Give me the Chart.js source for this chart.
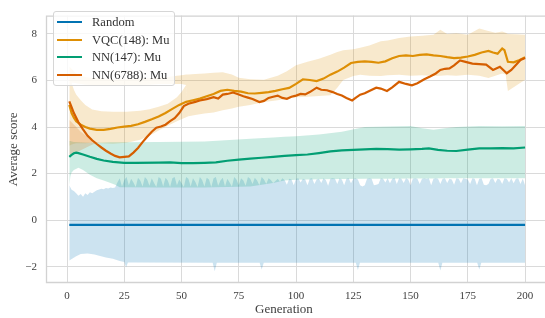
<!DOCTYPE html>
<html>
<head>
<meta charset="utf-8">
<script src="https://cdn.jsdelivr.net/npm/chart.js@4.4.0/dist/chart.umd.min.js"></script>
<style>
  html, body { margin: 0; padding: 0; background: #fff; }
  #wrap { position: relative; width: 545px; height: 318px; }
  #legend {
    position: absolute; left: 53px; top: 11px; width: 120px; height: 73px;
    border: 1px solid #d6d6d6; border-radius: 3px; background: rgba(255,255,255,0.8);
    font-family: "Liberation Serif", "Times New Roman", serif; font-size: 12.5px; color: #333;
  }
  .row { position: absolute; left: 0; height: 18px; line-height: 18px; white-space: nowrap; }
  .swatch { position: absolute; left: 3px; top: 8px; width: 25px; height: 2px; }
  .txt { position: absolute; left: 38px; top: 0; }
  #xtitle {
    position: absolute; left: 284px; top: 309px; transform: translate(-50%, -50%);
    font-family: "Liberation Serif", "Times New Roman", serif; font-size: 13px; color: #404040;
  }
</style>
</head>
<body>
<div id="wrap">
  <canvas id="chart" width="545" height="318"></canvas>
  <div id="legend"></div>
  <div id="xtitle">Generation</div>
</div>
<script>
const seriesLabels = ["Random", "VQC(148): Mu", "NN(147): Mu", "NN(6788): Mu"];
const seriesColors = ["#0173b2", "#de8f05", "#029e73", "#d55e00"];

const xTicks = [0, 25, 50, 75, 100, 125, 150, 175, 200];
const yTicks = [-2, 0, 2, 4, 6, 8];

// every generation, used for the spiky top edge of the random band
const generations = Array.from({ length: 200 }, (_, i) => i + 1);

// Random
const randomGens = [1, 200];
const randomMean = [-0.2, -0.2];
const randomTop = [
  1.5, 1.3, 1.25, 1.15, 1.05, 1.12, 1.0, 1.15, 1.08, 1.2,
  1.15, 1.22, 1.28, 1.32, 1.35, 1.33, 1.38, 1.36, 1.4, 1.38,
  1.4, 1.62, 1.8, 1.45, 1.72, 1.85, 1.5, 1.78, 1.62, 1.42,
  1.82, 1.7, 1.45, 1.85, 1.75, 1.48, 1.8, 1.6, 1.42, 1.85,
  1.78, 1.45, 1.82, 1.7, 1.42, 1.8, 1.85, 1.5, 1.75, 1.6,
  1.42, 1.85, 1.78, 1.45, 1.8, 1.65, 1.42, 1.85, 1.72, 1.45,
  1.82, 1.75, 1.42, 1.8, 1.85, 1.48, 1.7, 1.82, 1.45, 1.78,
  1.62, 1.45, 1.85, 1.75, 1.5, 1.8, 1.7, 1.48, 1.85, 1.78,
  1.55, 1.82, 1.7, 1.5, 1.85, 1.75, 1.55, 1.8, 1.72, 1.6,
  1.68, 1.78, 1.65, 1.8, 1.72, 1.52, 1.78, 1.75, 1.5, 1.78,
  1.8, 1.62, 1.78, 1.75, 1.5, 1.78, 1.8, 1.55, 1.75, 1.78,
  1.6, 1.8, 1.72, 1.48, 1.78, 1.8, 1.78, 1.55, 1.8, 1.75,
  1.5, 1.78, 1.8, 1.58, 1.78, 1.8, 1.75, 1.5, 1.45, 1.5,
  1.78, 1.8, 1.78, 1.5, 1.52, 1.55, 1.8, 1.78, 1.62, 1.8,
  1.58, 1.78, 1.82, 1.55, 1.8, 1.78, 1.6, 1.8, 1.75, 1.5,
  1.78, 1.8, 1.78, 1.55, 1.78, 1.8, 1.78, 1.8, 1.5, 1.78,
  1.8, 1.78, 1.55, 1.78, 1.8, 1.6, 1.78, 1.75, 1.52, 1.8,
  1.78, 1.58, 1.8, 1.78, 1.75, 1.55, 1.8, 1.78, 1.5, 1.78,
  1.8, 1.52, 1.5, 1.55, 1.78, 1.8, 1.6, 1.78, 1.75, 1.55,
  1.8, 1.78, 1.62, 1.8, 1.58, 1.78, 1.8, 1.55, 1.78, 1.5
];
const randomBottomGens = [1, 4, 6, 9, 12, 14, 17, 20, 23, 25, 25.8, 26.6, 30, 63.6, 64.5, 65.4, 84.1, 85, 85.9, 126.1, 127, 127.9, 162.1, 163, 163.9, 179.1, 180, 180.9, 200];
const randomBottom = [-1.73, -1.55, -1.45, -1.43, -1.48, -1.53, -1.6, -1.66, -1.75, -1.8, -2.02, -1.82, -1.82, -1.83, -2.2, -1.83, -1.83, -2.12, -1.83, -1.83, -2.14, -1.83, -1.83, -2.16, -1.83, -1.83, -2.12, -1.83, -1.83];

// VQC(148)
const vqcGens = [1, 2, 3, 4, 6, 8, 10, 13, 16, 19, 22, 25, 28, 31, 34, 37, 40, 43, 46, 49, 52, 55, 58, 61, 64, 67, 70, 73, 76, 79, 82, 85, 88, 91, 94, 97, 100, 103, 106, 109, 112, 115, 118, 121, 124, 127, 130, 133, 136, 139, 142, 145, 148, 151, 154, 157, 160, 163, 166, 169, 172, 175, 178, 181, 184, 186, 188, 190, 191, 192.5, 195, 197, 200];
const vqcMean = [4.95, 4.6, 4.4, 4.25, 4.1, 4.0, 3.93, 3.88, 3.88, 3.92, 3.98, 4.02, 4.05, 4.12, 4.22, 4.33, 4.45, 4.6, 4.78, 4.95, 5.08, 5.15, 5.22, 5.32, 5.42, 5.55, 5.6, 5.55, 5.52, 5.45, 5.44, 5.47, 5.5, 5.55, 5.62, 5.68, 5.85, 6.05, 6.02, 5.97, 6.08, 6.25, 6.38, 6.55, 6.75, 6.8, 6.82, 6.8, 6.76, 6.82, 6.95, 7.05, 7.08, 7.05, 7.1, 7.12, 7.08, 7.05, 7.0, 6.96, 6.98, 7.03, 7.1, 7.2, 7.27, 7.2, 7.15, 7.37, 7.3, 6.8, 6.78, 6.85, 7.0];
const vqcBandGens = [1, 2, 3, 4, 6, 8, 11, 15, 20, 26, 32, 36, 40, 44, 48, 50, 52, 53, 56, 60, 64, 68, 72, 75, 80, 86, 92, 96, 100, 105, 110, 115, 118, 120.6, 125, 128, 132, 137, 140, 145, 150, 155, 160, 163, 166, 170, 175, 180, 184, 187, 190, 191.5, 192.5, 196, 200];
const vqcBandLow = [3.2, 3.25, 3.28, 3.3, 3.3, 3.3, 3.32, 3.3, 3.28, 3.32, 3.45, 3.62, 3.85, 4.05, 4.25, 4.33, 4.42, 4.46, 4.52, 4.58, 4.62, 4.72, 4.8, 4.87, 4.95, 5.07, 5.15, 5.22, 5.28, 5.3, 5.33, 5.36, 5.69, 6.02, 6.19, 6.24, 6.2, 6.19, 6.22, 6.24, 6.2, 6.22, 6.19, 6.2, 6.22, 6.2, 6.24, 6.2, 6.1, 6.2, 6.3, 6.25, 5.55, 5.77, 6.03];
const vqcBandHigh = [6.6, 6.5, 6.4, 6.3, 6.2, 6.15, 6.1, 6.08, 6.05, 6.05, 6.08, 6.1, 6.12, 6.15, 6.2, 6.22, 6.25, 6.25, 6.28, 6.3, 6.33, 6.35, 6.25, 6.12, 6.05, 6.03, 6.2, 6.4, 6.65, 6.8, 6.93, 7.1, 7.22, 7.3, 7.34, 7.4, 7.5, 7.68, 7.72, 7.82, 7.89, 7.92, 7.96, 8.18, 8.0, 8.03, 7.96, 8.23, 8.12, 8.05, 8.1, 8.05, 8.0, 7.98, 7.96];
// white hollow inside the VQC band over the first 52 generations
const vqcHoleTop = [5.9, 5.9, 5.9, 5.88, 5.85, 5.82, 5.8, 5.78, 5.78, 5.78, 5.8, 5.82, 5.85, 5.85, 5.85, 5.85, 5.8];
const vqcHoleBottom = [5.9, 5.9, 5.6, 5.4, 5.15, 4.95, 4.75, 4.68, 4.65, 4.66, 4.7, 4.76, 4.87, 5.0, 5.28, 5.5, 5.8];

// NN(147)
const nn147Gens = [1, 2, 3, 4, 5, 7, 10, 13, 16, 20, 25, 30, 40, 45, 50, 55, 60, 65, 70, 75, 80, 85, 90, 95, 100, 105, 110, 115, 120, 125, 130, 135, 140, 145, 150, 155, 158, 162, 166, 170, 175, 180, 185, 190, 195, 200];
const nn147Mean = [2.72, 2.8, 2.87, 2.9, 2.88, 2.82, 2.72, 2.63, 2.56, 2.5, 2.46, 2.46, 2.47, 2.48, 2.45, 2.45, 2.46, 2.48, 2.55, 2.6, 2.64, 2.68, 2.72, 2.76, 2.79, 2.82, 2.88, 2.95, 3.0, 3.02, 3.04, 3.06, 3.05, 3.03, 3.04, 3.06, 3.08, 3.02, 2.98, 2.97, 3.03, 3.08, 3.08, 3.09, 3.08, 3.12];
const nn147BandGens = [1, 1.5, 2, 3, 5, 7, 10, 13, 16, 19, 21, 23, 40, 60, 80, 90, 95, 100, 110, 120, 130, 140, 150, 155, 160, 165, 170, 180, 190, 200];
const nn147BandLow = [1.5, 1.9, 2.05, 2.15, 2.25, 2.15, 1.95, 1.8, 1.7, 1.6, 1.52, 1.41, 1.4, 1.4, 1.45, 1.6, 1.7, 1.74, 1.76, 1.77, 1.78, 1.78, 1.79, 1.79, 1.79, 1.8, 1.8, 1.8, 1.8, 1.8];
const nn147BandHigh = [3.4, 3.4, 3.38, 3.36, 3.35, 3.33, 3.32, 3.32, 3.33, 3.34, 3.35, 3.35, 3.36, 3.38, 3.5, 3.55, 3.58, 3.6, 3.68, 3.8, 4.0, 4.02, 4.04, 3.95, 3.88, 3.95, 4.0, 4.04, 4.03, 4.04];

// NN(6788)
const nn6788Gens = [1, 2, 3, 5, 7, 9, 11, 13, 15, 17, 19, 21, 23, 25, 27, 29, 31, 33, 35, 37, 39, 41, 43, 45, 47, 49, 51, 53, 56, 58, 61, 64, 66, 68, 70, 72.5, 75, 77, 79, 81, 84, 86, 88, 90, 92, 94, 96, 98, 100, 102, 104, 106, 109, 111, 113.5, 116, 118, 120, 122, 124.5, 126, 128, 130, 132, 135, 137, 139.7, 142, 145, 148, 150.6, 153, 156, 158.5, 161, 163, 165, 167, 169, 171.6, 174, 177, 180, 183, 186, 189, 192, 194, 196.5, 198, 200];
const nn6788Mean = [5.1, 4.85, 4.6, 4.2, 3.9, 3.62, 3.43, 3.27, 3.12, 2.98, 2.86, 2.76, 2.7, 2.72, 2.74, 2.9, 3.1, 3.35, 3.58, 3.8, 3.97, 4.02, 4.1, 4.25, 4.38, 4.6, 4.9, 5.0, 5.08, 5.14, 5.2, 5.28, 5.22, 5.39, 5.42, 5.48, 5.4, 5.32, 5.26, 5.2, 5.07, 5.12, 5.25, 5.3, 5.35, 5.25, 5.21, 5.3, 5.35, 5.42, 5.4, 5.5, 5.69, 5.6, 5.58, 5.5, 5.42, 5.35, 5.25, 5.14, 5.25, 5.39, 5.45, 5.55, 5.69, 5.65, 5.55, 5.7, 5.94, 5.85, 5.79, 5.88, 6.05, 6.17, 6.3, 6.45, 6.5, 6.52, 6.65, 6.86, 6.8, 6.72, 6.7, 6.68, 6.45, 6.59, 6.31, 6.45, 6.72, 6.88, 6.96];
const nn6788BandGens = [1, 2, 4, 6, 8, 10, 12, 14];
const nn6788BandLow = [2.75, 2.8, 2.9, 3.0, 3.1, 3.2, 3.28, 3.32];
const nn6788BandHigh = [4.3, 4.2, 4.0, 3.8, 3.65, 3.5, 3.38, 3.32];

function fade(hex, a) {
  const n = parseInt(hex.slice(1), 16);
  return `rgba(${(n >> 16) & 255}, ${(n >> 8) & 255}, ${n & 255}, ${a})`;
}

function pts(xs, ys) {
  return xs.map((x, i) => ({ x: x, y: ys[i] }));
}

function lineSet(label, xs, ys, color, order) {
  return {
    label: label,
    data: pts(xs, ys),
    borderColor: color,
    borderWidth: 2.2,
    pointRadius: 0,
    fill: false,
    tension: 0,
    order: order,
  };
}

function edgeSet(xs, ys, fillTo, color, order) {
  return {
    label: "",
    data: pts(xs, ys),
    borderColor: "rgba(0,0,0,0)",
    borderWidth: 0,
    pointRadius: 0,
    fill: fillTo,
    backgroundColor: color,
    tension: 0,
    order: order,
  };
}

function buildLegend() {
  const box = document.getElementById("legend");
  seriesLabels.forEach((label, i) => {
    const row = document.createElement("div");
    row.className = "row";
    row.style.top = 1 + i * 17.7 + "px";
    row.innerHTML = `<span class="swatch" style="background:${seriesColors[i]}"></span><span class="txt">${label}</span>`;
    box.appendChild(row);
  });
}

const framePlugin = {
  id: "frame",
  beforeDatasetsDraw(chart) {
    const { ctx, chartArea: a } = chart;
    ctx.save();
    ctx.strokeStyle = "#d2d2d2";
    ctx.lineWidth = 1.3;
    ctx.beginPath();
    ctx.moveTo(a.right + 2, a.top + 0.5);
    ctx.lineTo(a.left + 0.5, a.top + 0.5);
    ctx.lineTo(a.left + 0.5, a.bottom - 0.5);
    ctx.lineTo(a.right + 2, a.bottom - 0.5);
    ctx.stroke();
    ctx.restore();
  },
};

function initChart() {
  const [blue, orange, green, red] = seriesColors;

  const holeTopFull = vqcBandGens.map((g, i) => (i < vqcHoleTop.length ? vqcHoleTop[i] : vqcBandLow[i]));
  const holeBottomFull = vqcBandGens.map((g, i) => (i < vqcHoleBottom.length ? vqcHoleBottom[i] : vqcBandLow[i]));

  const datasets = [
    lineSet(seriesLabels[0], randomGens, randomMean, blue, 3), // 0
    lineSet(seriesLabels[1], vqcGens, vqcMean, orange, 2), // 1
    lineSet(seriesLabels[2], nn147Gens, nn147Mean, green, 1), // 2
    lineSet(seriesLabels[3], nn6788Gens, nn6788Mean, red, 0), // 3
    edgeSet(generations, randomTop, false, "transparent", 14), // 4
    edgeSet(randomBottomGens, randomBottom, 4, fade(blue, 0.2), 14), // 5
    edgeSet(vqcBandGens, vqcBandHigh, false, "transparent", 13), // 6
    edgeSet(vqcBandGens, holeTopFull, 6, fade(orange, 0.2), 13), // 7
    edgeSet(vqcBandGens, holeBottomFull, false, "transparent", 13), // 8
    edgeSet(vqcBandGens, vqcBandLow, 8, fade(orange, 0.2), 13), // 9
    edgeSet(nn147BandGens, nn147BandHigh, false, "transparent", 12), // 10
    edgeSet(nn147BandGens, nn147BandLow, 10, fade(green, 0.2), 12), // 11
    edgeSet(nn6788BandGens, nn6788BandHigh, false, "transparent", 11), // 12
    edgeSet(nn6788BandGens, nn6788BandLow, 12, fade(red, 0.2), 11), // 13
  ];

  const tickFont = { family: "'Liberation Serif', 'Times New Roman', serif", size: 11 };

  new Chart(document.getElementById("chart"), {
    type: "line",
    data: { datasets: datasets },
    options: {
      responsive: false,
      animation: false,
      devicePixelRatio: 1,
      layout: { padding: { top: 5, right: 0, bottom: 0, left: 0 } },
      plugins: {
        legend: { display: false },
        tooltip: { enabled: false },
      },
      scales: {
        x: {
          type: "linear",
          min: -9.17,
          max: 208.7,
          afterFit: (s) => { s.height = 35; },
          afterBuildTicks: (s) => { s.ticks = xTicks.map((v) => ({ value: v })); },
          ticks: { font: tickFont, color: "#404040", padding: 7, maxRotation: 0, autoSkip: false },
          grid: { color: "#dadada", lineWidth: 1, drawTicks: false },
          border: { display: false },
        },
        y: {
          type: "linear",
          min: -2.7,
          max: 8.785,
          afterFit: (s) => { s.width = 46; },
          afterBuildTicks: (s) => { s.ticks = yTicks.map((v) => ({ value: v })); },
          ticks: {
            font: tickFont,
            color: "#404040",
            padding: 9,
            callback: (v) => (v < 0 ? "\u2212" + Math.abs(v) : String(v)),
          },
          grid: { color: "#dadada", lineWidth: 1, drawTicks: false },
          border: { display: false },
          title: {
            display: true,
            text: "Average score",
            color: "#404040",
            font: { family: "'Liberation Serif', 'Times New Roman', serif", size: 13 },
            padding: { top: 6, bottom: 0 },
          },
        },
      },
    },
    plugins: [framePlugin],
  });
}

buildLegend();
initChart();
</script>
</body>
</html>
